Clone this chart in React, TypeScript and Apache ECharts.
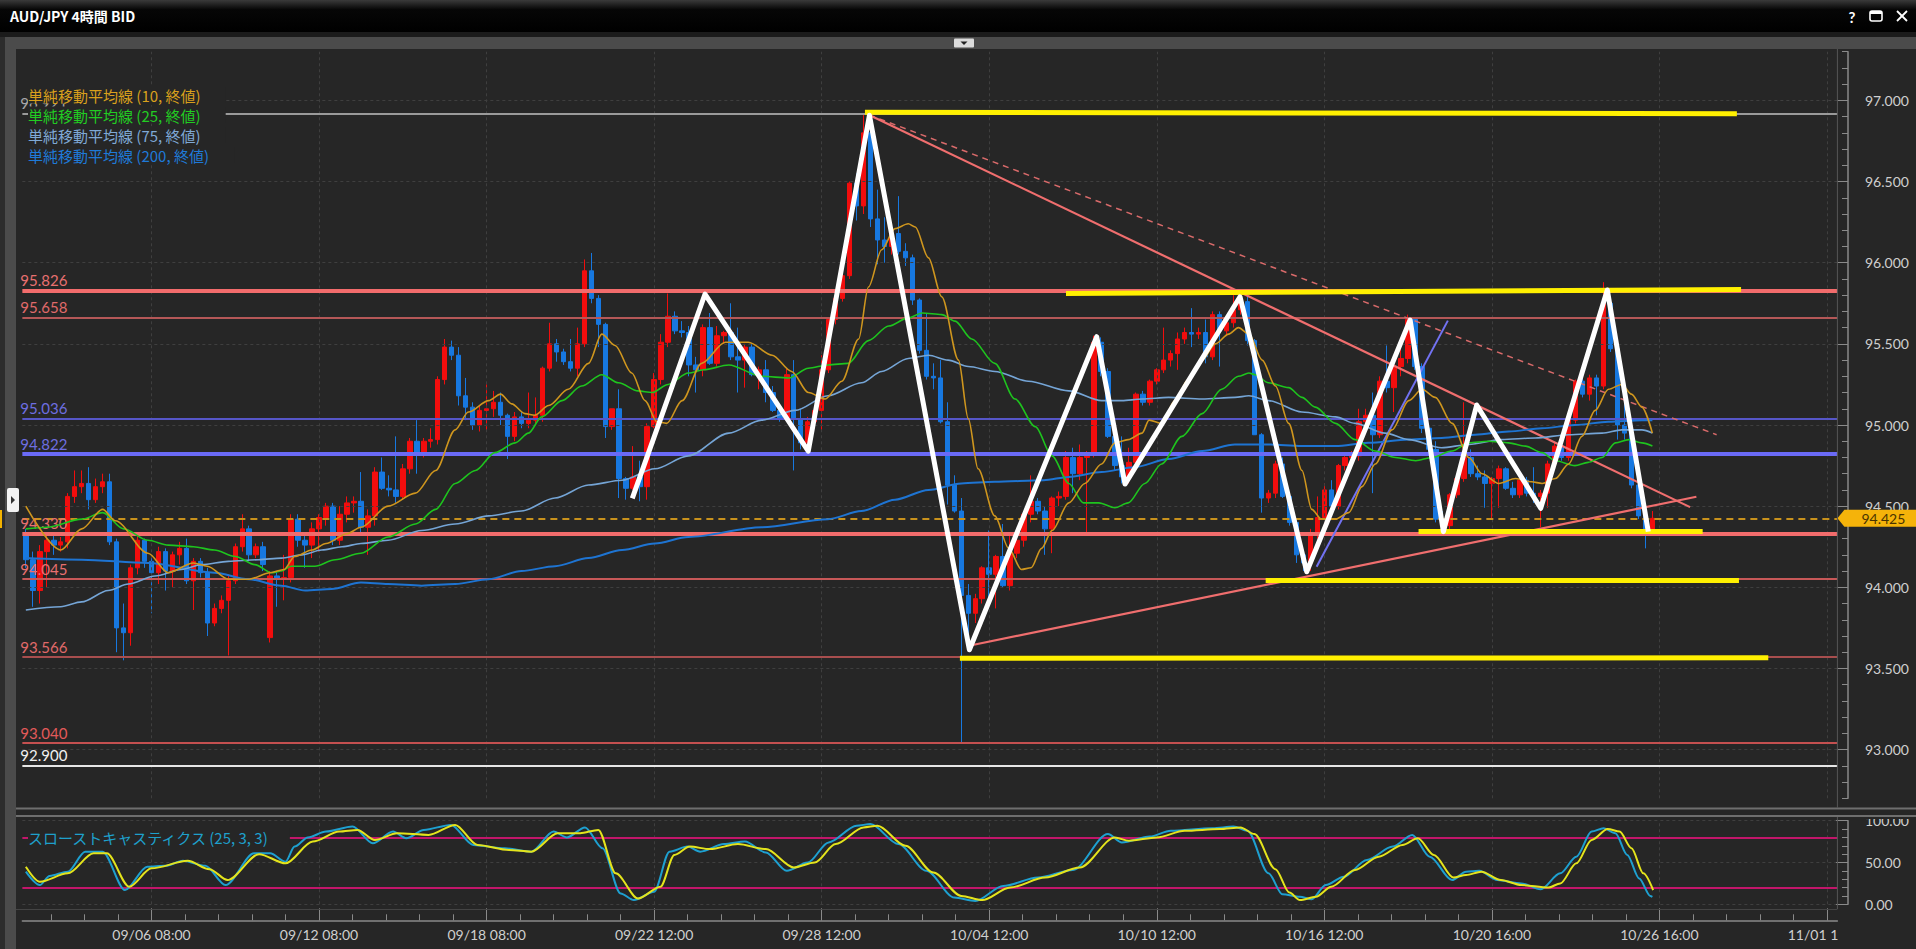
import React, { useEffect, useRef } from "react";
import * as echarts from "echarts";

const W = 1916;
const H = 949;
const BG = "#262626";
const FONT = 'Lato, "Noto Sans", sans-serif';
const JFONT = '"Noto Sans CJK JP", "Noto Sans", sans-serif';

// Candles: [open, high, low, close], one per 4h bar
const candleOHLC: number[][] = [
  [94.33, 94.36, 94.12, 94.17], [94.17, 94.22, 93.88, 93.98], [93.98, 94.26, 93.9, 94.22], [94.22, 94.33, 94.0, 94.29],
  [94.29, 94.34, 94.2, 94.26], [94.26, 94.31, 94.22, 94.28], [94.28, 94.58, 94.24, 94.56], [94.56, 94.72, 94.52, 94.62],
  [94.62, 94.72, 94.58, 94.64], [94.64, 94.74, 94.48, 94.54], [94.54, 94.67, 94.52, 94.62], [94.62, 94.7, 94.58, 94.65],
  [94.65, 94.7, 94.26, 94.28], [94.28, 94.3, 93.6, 93.75], [93.75, 93.9, 93.55, 93.72], [93.72, 94.14, 93.64, 94.12],
  [94.12, 94.32, 94.08, 94.29], [94.29, 94.3, 94.12, 94.16], [94.16, 94.18, 93.84, 94.09], [94.09, 94.25, 94.02, 94.22],
  [94.22, 94.24, 93.98, 94.1], [94.1, 94.22, 94.0, 94.2], [94.2, 94.28, 94.14, 94.24], [94.24, 94.3, 94.02, 94.04],
  [94.04, 94.18, 93.86, 94.16], [94.16, 94.18, 94.06, 94.09], [94.09, 94.12, 93.7, 93.78], [93.78, 93.9, 93.76, 93.87],
  [93.87, 93.95, 93.84, 93.92], [93.92, 94.08, 93.58, 94.04], [94.04, 94.27, 94.02, 94.25], [94.25, 94.45, 94.22, 94.36],
  [94.36, 94.38, 94.16, 94.2], [94.2, 94.27, 94.18, 94.25], [94.25, 94.28, 94.1, 94.14], [93.69, 94.1, 93.66, 94.07],
  [94.07, 94.1, 93.88, 94.05], [94.05, 94.2, 93.92, 94.06], [94.06, 94.45, 94.03, 94.42], [94.42, 94.45, 94.25, 94.29],
  [94.29, 94.32, 94.12, 94.26], [94.26, 94.4, 94.18, 94.36], [94.36, 94.45, 94.22, 94.43], [94.43, 94.52, 94.38, 94.5],
  [94.5, 94.52, 94.26, 94.29], [94.29, 94.5, 94.26, 94.45], [94.45, 94.56, 94.4, 94.52], [94.52, 94.56, 94.46, 94.53],
  [94.53, 94.71, 94.34, 94.37], [94.37, 94.48, 94.2, 94.44], [94.44, 94.74, 94.38, 94.71], [94.71, 94.8, 94.6, 94.61],
  [94.61, 94.69, 94.56, 94.6], [94.6, 94.93, 94.52, 94.56], [94.56, 94.76, 94.54, 94.73], [94.73, 94.92, 94.7, 94.9],
  [94.9, 95.03, 94.7, 94.83], [94.83, 94.92, 94.8, 94.9], [94.9, 94.98, 94.86, 94.91], [94.91, 95.3, 94.88, 95.28],
  [95.28, 95.53, 95.25, 95.48], [95.48, 95.52, 95.4, 95.43], [95.43, 95.48, 95.12, 95.18], [95.18, 95.29, 95.03, 95.11],
  [95.11, 95.14, 94.97, 95.0], [95.0, 95.12, 94.96, 95.09], [95.09, 95.25, 94.96, 95.1], [95.1, 95.21, 95.05, 95.14],
  [95.14, 95.2, 95.0, 95.06], [95.06, 95.07, 94.79, 94.93], [94.93, 95.08, 94.9, 95.05], [95.05, 95.08, 94.98, 95.01],
  [95.01, 95.2, 94.98, 95.03], [95.03, 95.17, 95.0, 95.06], [95.06, 95.36, 95.02, 95.35], [95.35, 95.63, 95.33, 95.5],
  [95.5, 95.53, 95.39, 95.45], [95.45, 95.47, 95.37, 95.39], [95.39, 95.53, 95.33, 95.35], [95.35, 95.6, 95.3, 95.5],
  [95.5, 96.02, 95.48, 95.95], [95.95, 96.06, 95.75, 95.78], [95.78, 95.8, 95.48, 95.62], [95.62, 95.63, 94.92, 94.99],
  [94.99, 95.1, 94.97, 95.1], [95.1, 95.22, 94.55, 94.67], [94.67, 94.68, 94.54, 94.61], [94.61, 94.87, 94.6, 94.68],
  [94.68, 94.78, 94.53, 94.62], [94.62, 95.01, 94.54, 94.99], [94.99, 95.32, 94.98, 95.28], [95.28, 95.56, 95.25, 95.51],
  [95.51, 95.81, 95.48, 95.67], [95.67, 95.7, 95.56, 95.58], [95.58, 95.64, 95.54, 95.57], [95.57, 95.61, 95.3, 95.37],
  [95.37, 95.42, 95.2, 95.34], [95.34, 95.62, 95.3, 95.6], [95.6, 95.69, 95.37, 95.38], [95.38, 95.61, 95.36, 95.55],
  [95.55, 95.58, 95.5, 95.57], [95.57, 95.75, 95.4, 95.42], [95.42, 95.6, 95.2, 95.4], [95.4, 95.5, 95.23, 95.48],
  [95.48, 95.5, 95.3, 95.31], [95.31, 95.36, 95.22, 95.34], [95.34, 95.4, 95.14, 95.2], [95.2, 95.24, 95.08, 95.09],
  [95.09, 95.11, 95.02, 95.04], [95.04, 95.35, 95.02, 95.31], [95.31, 95.4, 94.72, 95.04], [95.04, 95.1, 94.85, 94.89],
  [94.89, 95.05, 94.84, 95.02], [95.02, 95.12, 94.98, 95.09], [95.09, 95.43, 94.96, 95.34], [95.34, 95.66, 95.32, 95.65],
  [95.65, 95.8, 95.62, 95.78], [95.78, 95.94, 95.76, 95.92], [95.92, 96.5, 95.9, 96.49], [96.49, 96.55, 96.26, 96.35],
  [96.35, 96.921, 96.3, 96.8], [96.8, 96.91, 96.22, 96.27], [96.27, 96.45, 95.99, 96.14], [96.14, 96.28, 96.0, 96.1],
  [96.1, 96.2, 96.05, 96.18], [96.18, 96.41, 96.05, 96.07], [96.07, 96.12, 95.98, 96.03], [96.03, 96.05, 95.74, 95.77],
  [95.77, 95.78, 95.44, 95.46], [95.46, 95.69, 95.28, 95.3], [95.3, 95.38, 95.22, 95.29], [95.29, 95.4, 95.01, 95.02],
  [95.02, 95.14, 94.51, 94.63], [94.63, 94.69, 94.46, 94.47], [94.47, 94.55, 93.04, 93.95], [93.95, 94.02, 93.62, 93.84],
  [93.84, 93.96, 93.78, 93.93], [93.93, 94.13, 93.9, 94.12], [94.12, 94.35, 93.87, 94.08], [94.08, 94.2, 93.87, 94.19],
  [94.19, 94.39, 94.0, 94.01], [94.01, 94.32, 93.98, 94.21], [94.21, 94.32, 94.18, 94.29], [94.29, 94.47, 94.25, 94.45],
  [94.45, 94.69, 94.4, 94.53], [94.53, 94.55, 94.45, 94.47], [94.47, 94.5, 94.2, 94.36], [94.36, 94.56, 94.21, 94.55],
  [94.55, 94.59, 94.5, 94.56], [94.56, 94.84, 94.54, 94.8], [94.8, 94.86, 94.58, 94.7], [94.7, 94.88, 94.66, 94.8],
  [94.8, 94.84, 94.33, 94.83], [94.83, 95.55, 94.8, 95.51], [95.51, 95.54, 95.3, 95.33], [95.33, 95.35, 94.92, 94.93],
  [94.93, 95.0, 94.72, 94.75], [94.75, 94.93, 94.64, 94.68], [94.68, 94.86, 94.64, 94.77], [94.77, 95.2, 94.72, 95.19],
  [95.19, 95.21, 95.12, 95.14], [95.14, 95.28, 95.12, 95.27], [95.27, 95.35, 95.25, 95.34], [95.34, 95.6, 95.32, 95.4],
  [95.4, 95.46, 95.36, 95.44], [95.44, 95.57, 95.34, 95.53], [95.53, 95.6, 95.5, 95.57], [95.57, 95.72, 95.48, 95.56],
  [95.56, 95.6, 95.53, 95.57], [95.57, 95.65, 95.38, 95.42], [95.42, 95.7, 95.4, 95.68], [95.68, 95.7, 95.36, 95.58],
  [95.58, 95.65, 95.55, 95.63], [95.63, 95.8, 95.6, 95.71], [95.71, 95.8, 95.68, 95.76], [95.76, 95.8, 95.49, 95.52],
  [95.52, 95.53, 94.94, 94.94], [94.94, 94.95, 94.46, 94.55], [94.55, 94.6, 94.52, 94.58], [94.58, 94.78, 94.55, 94.76],
  [94.76, 94.8, 94.55, 94.56], [94.56, 94.58, 94.38, 94.4], [94.4, 94.42, 94.15, 94.2], [94.2, 94.22, 94.1, 94.15],
  [94.15, 94.36, 94.1, 94.32], [94.32, 94.56, 94.3, 94.43], [94.43, 94.64, 94.4, 94.6], [94.6, 94.66, 94.48, 94.5],
  [94.5, 94.76, 94.48, 94.75], [94.75, 94.82, 94.72, 94.8], [94.8, 94.84, 94.77, 94.81], [94.81, 95.1, 94.78, 95.02],
  [95.02, 95.1, 95.0, 95.06], [95.06, 95.2, 94.58, 94.94], [94.94, 95.3, 94.92, 95.27], [95.27, 95.49, 95.2, 95.23],
  [95.23, 95.4, 95.08, 95.36], [95.36, 95.51, 95.3, 95.41], [95.41, 95.68, 95.38, 95.65], [95.65, 95.66, 95.34, 95.36],
  [95.36, 95.38, 94.95, 94.98], [94.98, 94.99, 94.82, 94.85], [94.85, 94.9, 94.4, 94.42], [94.42, 94.47, 94.34, 94.38],
  [94.38, 94.58, 94.33, 94.57], [94.57, 94.67, 94.55, 94.67], [94.67, 95.14, 94.65, 94.8], [94.8, 94.85, 94.68, 94.7],
  [94.7, 94.75, 94.66, 94.68], [94.68, 94.72, 94.49, 94.64], [94.64, 94.68, 94.42, 94.67], [94.67, 94.75, 94.49, 94.73],
  [94.73, 94.74, 94.6, 94.61], [94.61, 94.65, 94.55, 94.57], [94.57, 94.7, 94.55, 94.66], [94.66, 94.68, 94.56, 94.58],
  [94.58, 94.74, 94.52, 94.56], [94.56, 94.6, 94.37, 94.58], [94.58, 94.78, 94.49, 94.76], [94.76, 94.89, 94.74, 94.87],
  [94.87, 94.89, 94.78, 94.8], [94.8, 95.03, 94.78, 95.03], [95.03, 95.28, 95.01, 95.27], [95.27, 95.3, 95.17, 95.19],
  [95.19, 95.31, 95.15, 95.29], [95.29, 95.31, 95.06, 95.24], [95.24, 95.88, 95.22, 95.75], [95.75, 95.77, 95.45, 95.47],
  [95.47, 95.5, 94.91, 95.0], [95.0, 95.13, 94.91, 94.95], [94.95, 94.97, 94.61, 94.63], [94.63, 94.64, 94.42, 94.44],
  [94.44, 94.49, 94.24, 94.35], [94.35, 94.47, 94.34, 94.425],
];

// Moving averages: [bar index, price]
const sma10: number[][] = [
  [0, 94.5], [5, 94.23], [8, 94.36], [11, 94.48], [12.8, 94.41], [17.5, 94.21], [20.4, 94.09], [24, 94.15], [26, 94.13],
  [29, 94.05], [32, 94.05], [35, 94.09], [37, 94.11], [38.5, 94.19], [41, 94.23], [43, 94.27], [46, 94.33], [48, 94.37],
  [51.9, 94.5], [55.8, 94.58], [58.7, 94.72], [61.5, 94.97], [63.4, 95.08], [66.3, 95.15], [68, 95.19], [69.6, 95.13],
  [71.5, 95.07], [72.9, 95.06], [74.9, 95.12], [77.7, 95.22], [80.6, 95.38], [82.5, 95.56], [84.4, 95.49], [86.8, 95.32],
  [88.7, 95.15], [90.4, 95.02], [91.8, 95.01], [94, 95.15], [96.8, 95.38], [100.2, 95.51], [103.5, 95.51], [106.9, 95.43],
  [109.7, 95.33], [112.1, 95.2], [114.5, 95.16], [116.9, 95.27], [119.3, 95.53], [120.7, 95.85], [122.6, 96.08],
  [124.5, 96.21], [126.4, 96.24], [127.4, 96.22], [129.3, 96.03], [131.2, 95.79], [133.6, 95.4], [135, 95.04],
  [136.4, 94.73], [138.8, 94.44], [140.8, 94.24], [142.6, 94.11], [144, 94.12], [145.5, 94.24], [147, 94.35],
  [149.4, 94.52], [151.7, 94.64], [154.1, 94.76], [156, 94.89], [157.9, 94.91], [159.9, 94.95], [160.9, 95.03],
  [162.7, 95.01], [164.6, 95.15], [166.5, 95.28], [168.5, 95.4], [170.4, 95.5], [172.3, 95.56], [173.7, 95.6],
  [175.2, 95.56], [177.1, 95.4], [179, 95.24], [180.9, 95.01], [182.8, 94.72], [184.2, 94.48], [185.6, 94.42],
  [187.6, 94.42], [189.5, 94.46], [191.4, 94.62], [193.3, 94.76], [195.7, 94.97], [198.1, 95.15], [200, 95.22],
  [201.9, 95.17], [204.3, 95.01], [206.7, 94.8], [208.6, 94.7], [211, 94.64], [213.4, 94.67], [215.7, 94.65],
  [217.2, 94.64], [219.1, 94.67], [221, 94.76], [222.9, 94.93], [224.8, 95.09], [226.7, 95.22], [228.6, 95.25],
  [230, 95.19], [231.5, 95.11], [233, 94.95],
];
const sma25: number[][] = [
  [0, 94.36], [3, 94.37], [8, 94.42], [11, 94.46], [14, 94.36], [17.5, 94.29], [20.4, 94.26], [24, 94.25], [27, 94.23],
  [30, 94.19], [32.8, 94.14], [35.2, 94.09], [36.6, 94.1], [38, 94.13], [41.4, 94.13], [44.3, 94.17], [48, 94.21],
  [51.9, 94.31], [55.8, 94.39], [58.7, 94.48], [61.5, 94.64], [64.4, 94.72], [67.2, 94.83], [70.1, 94.89], [72, 94.95],
  [73.9, 95.05], [76.8, 95.15], [79.6, 95.24], [82.5, 95.31], [84.9, 95.26], [87.7, 95.21], [89.7, 95.2], [92, 95.25],
  [94.9, 95.32], [97.1, 95.34], [100.7, 95.37], [105.4, 95.3], [109.3, 95.29], [112.1, 95.35], [114.9, 95.37],
  [117.8, 95.38], [120.7, 95.52], [123.6, 95.61], [126.4, 95.66], [128.4, 95.69], [131.2, 95.68], [133.1, 95.64],
  [135.5, 95.53], [138.8, 95.38], [141.7, 95.16], [144.6, 94.99], [147, 94.81], [149.4, 94.64], [151.5, 94.52],
  [153.7, 94.52], [156, 94.49], [157.9, 94.52], [160.3, 94.64], [162.7, 94.76], [165.6, 94.93], [168.5, 95.07],
  [171.3, 95.22], [173.7, 95.3], [175.2, 95.32], [176.1, 95.31], [178, 95.26], [180.9, 95.23], [182.8, 95.17],
  [184.7, 95.11], [187.6, 95.01], [190.4, 94.91], [193.3, 94.84], [196.2, 94.8], [199.1, 94.78], [201.4, 94.8],
  [204.3, 94.84], [206.7, 94.89], [209.5, 94.9], [212.4, 94.89], [214.8, 94.87], [217.2, 94.83], [219.1, 94.78],
  [221.9, 94.75], [223.8, 94.77], [225.8, 94.8], [227.7, 94.89], [229.6, 94.91], [231.5, 94.89], [233, 94.87],
];
const sma75: number[][] = [
  [0, 93.86], [5, 93.88], [8, 93.91], [11.8, 93.98], [14.7, 94.02], [18.5, 94.07], [22.3, 94.11], [25.2, 94.14],
  [29, 94.16], [33.3, 94.17], [36.6, 94.18], [39.5, 94.2], [42.4, 94.23], [45.3, 94.25], [48, 94.27], [51.9, 94.29],
  [56.7, 94.35], [61.5, 94.39], [66.3, 94.44], [71, 94.47], [75.8, 94.55], [80.6, 94.63], [85.4, 94.66], [90.1, 94.73],
  [94.9, 94.81], [100.7, 94.95], [105.4, 95.03], [110.2, 95.09], [114.9, 95.18], [119.7, 95.26], [122.6, 95.33],
  [126.4, 95.41], [129.3, 95.43], [132.1, 95.4], [135, 95.36], [138.8, 95.33], [143.6, 95.27], [149.4, 95.21],
  [154.1, 95.15], [157, 95.15], [159.9, 95.16], [163.7, 95.17], [168.5, 95.16], [173.2, 95.17], [175.2, 95.18],
  [178, 95.15], [182.8, 95.08], [187.6, 95.05], [190.4, 95.01], [194.7, 94.95], [198.1, 94.91], [202.8, 94.86],
  [206.7, 94.88], [211.4, 94.91], [216.2, 94.92], [221, 94.94], [225.8, 94.95], [228.6, 94.97], [231.5, 94.97],
  [233, 94.95],
];
const sma200: number[][] = [
  [0, 94.18], [8, 94.17], [17.5, 94.15], [27, 94.09], [31.9, 94.05], [36.6, 94.01], [40, 93.98], [43.8, 93.99],
  [48, 94.03], [51.9, 94.02], [56.7, 94.01], [61.5, 94.02], [66.3, 94.05], [71, 94.1], [75.8, 94.13], [80.6, 94.18],
  [85.4, 94.23], [90.1, 94.27], [94.9, 94.31], [105.4, 94.37], [114.9, 94.42], [119.7, 94.47], [124.5, 94.54],
  [129.3, 94.6], [134, 94.64], [138.8, 94.65], [145.8, 94.66], [149.4, 94.68], [154.1, 94.71], [158.8, 94.74],
  [163.7, 94.79], [168.5, 94.84], [173.2, 94.88], [178, 94.88], [182.8, 94.87], [187.6, 94.87], [192.3, 94.89],
  [198.1, 94.91], [202.8, 94.92], [207.6, 94.94], [212.4, 94.96], [217.2, 94.98], [221.9, 95.0], [226.7, 95.02],
  [231.5, 95.03], [233, 95.03],
];

// Slow stochastics (%K cyan, %D yellow): [bar index, value]
const stochK: number[][] = [
  [0, 39], [2, 23], [3.4, 34], [6, 39], [8.5, 63], [11, 63], [14.2, 17], [17.4, 45], [20, 46], [22.5, 52], [25.7, 46],
  [28.6, 23], [32.7, 61], [35, 61], [37.2, 51], [38.5, 69], [40.4, 80], [43, 87], [46.8, 93], [49.7, 73], [52.6, 87],
  [54.5, 79], [57, 89], [60.9, 95], [64.1, 71], [68.6, 67], [72.4, 63], [75.6, 87], [77.5, 80], [80.1, 92], [82.6, 67],
  [85.2, 13], [87.1, 5], [90, 15], [92.2, 63], [94.8, 69], [96.6, 63], [100, 72], [103, 75], [106, 62], [109, 40],
  [112, 50], [115, 74], [119, 94], [121, 96], [125, 72], [129, 40], [133, 8], [136, 4], [140, 22], [145, 32], [150, 41],
  [155, 84], [157, 74], [161, 81], [164, 88], [170, 91], [173, 93], [175, 88], [178, 37], [180, 12], [182.5, 9],
  [184.2, 6], [186.2, 23], [188.8, 33], [192.1, 53], [195.8, 69], [198.6, 83], [201.1, 57], [204.3, 29], [206.3, 39],
  [208.2, 40], [210.8, 29], [214.2, 25], [217, 18], [219.8, 37], [222.1, 57], [224.3, 87], [226, 91], [227.7, 85],
  [229.4, 59], [231.1, 31], [232.7, 10], [233, 9],
];
const stochD: number[][] = [
  [0, 45], [2, 27], [6, 37], [9.7, 61], [11.6, 61], [14.8, 21], [18, 43], [23.2, 52], [26.3, 42], [28.9, 29], [33.4, 60],
  [37.2, 49], [41.1, 75], [44.9, 87], [47.5, 89], [50, 77], [53.2, 85], [57.7, 83], [61.5, 95], [64.7, 71], [69.2, 65],
  [72.4, 63], [76.2, 85], [79.4, 85], [82, 89], [84.5, 37], [87.7, 7], [90.9, 21], [92.9, 59], [95.1, 69], [98, 66],
  [102, 72], [106, 66], [110, 44], [113, 50], [116, 72], [120, 92], [122, 94], [126, 70], [130, 38], [134, 10], [137, 5],
  [141, 20], [146, 32], [151, 44], [156, 80], [158, 76], [162, 80], [166, 88], [171, 90], [174, 92], [176, 84], [179, 42],
  [181, 14], [182.5, 5], [184.8, 9], [187, 21], [190.4, 41], [193.8, 57], [197.2, 71], [199.4, 79], [201.7, 59],
  [204.5, 32], [206.3, 35], [208.5, 39], [211.3, 29], [214.2, 23], [218.1, 20], [219.8, 25], [222.1, 49], [224.3, 77],
  [226.6, 90], [228.3, 87], [230, 67], [231.7, 37], [233.1, 17],
];

// Axis labels
const NUM_SLOTS = 260;
const xLabelIdx = [18, 42, 66, 90, 114, 138, 162, 186, 210, 234, 258];
const xLabelText = [
  "09/06 08:00", "09/12 08:00", "09/18 08:00", "09/22 12:00", "09/28 12:00", "10/04 12:00",
  "10/10 12:00", "10/16 12:00", "10/20 16:00", "10/26 16:00", "11/01 16:00",
];
const priceGrid = [93, 93.5, 94, 94.5, 95, 95.5, 96, 96.5, 97];

// Horizontal level lines
const levelValues = [96.921, 95.826, 95.658, 95.036, 94.822, 94.33, 94.045, 93.566, 93.04, 92.9];
const levelColors = ["#9a9a9a", "#f26c6c", "#b45757", "#5656c8", "#6a6af6", "#f26c6c", "#c85858", "#a84e4e", "#c45050", "#e6e6e6"];
const levelWidths = [2, 4, 2, 2, 4, 4, 2, 2, 2, 2];
const levelLabelColors = ["#a8a8a8", "#e87070", "#e06a6a", "#6e6ee0", "#6e6ee0", "#e87070", "#e87070", "#e06a6a", "#e25a5a", "#f0f0f0"];
const lastPrice = 94.425;

// Hand drawings: [bar index, price]
const zigzag: number[][] = [
  [86.87, 94.548], [97.29, 95.807], [112.08, 94.839], [120.84, 96.908], [135.16, 93.615], [153.4, 95.544],
  [157.45, 94.636], [173.93, 95.79], [183.48, 94.096], [198.29, 95.647], [203.06, 94.343], [207.83, 95.123],
  [217.0, 94.487], [226.54, 95.832], [232.41, 94.343],
];
const yellowLines: number[][][] = [
  [[120.2, 96.927], [245.1, 96.918]],
  [[149.0, 95.81], [245.7, 95.835]],
  [[199.5, 94.343], [240.2, 94.343]],
  [[177.6, 94.045], [245.4, 94.045]],
  [[133.8, 93.563], [249.6, 93.566]],
];
const redLines: number[][][] = [
  [[120.8, 96.91], [238.4, 94.494]],
  [[135.1, 93.64], [239.3, 94.558]],
];
const redDashedLines: number[][][] = [[[120.8, 96.91], [242.2, 94.94]]];
const blueLines: number[][][] = [[[184.9, 94.127], [203.7, 95.643]]];

// Layout
const PLOT_L = 22.35;
const PLOT_R = 1837.4;
const PX_PER_PRICE = 162.3;
const Y97 = 100.4;
const yOf = (p: number) => Y97 + (97 - p) * PX_PER_PRICE;
const xOf = (k: number) => PLOT_L + (k + 0.5) * ((PLOT_R - PLOT_L) / NUM_SLOTS);

function segLines(list: number[][][], style: any) {
  return list.map((s) => [
    { coord: s[0], lineStyle: style },
    { coord: s[1] },
  ]);
}

function buildOption(): any {
  const cats = Array.from({ length: NUM_SLOTS }, (_, i) => String(i));
  const mainTop = yOf(97.3);
  const mainBottom = yOf(92.7);
  const majTop = yOf(97.5);
  const majBottom = yOf(93);
  const stTop = 820.7;
  const stBottom = 904.3;
  const minorL = xOf(3.6);
  const minorR = xOf(258);
  const axisColor = "#8a8a8a";
  const labelColor = "#cfcfcf";
  const isLab = (i: number) => xLabelIdx.indexOf(i) >= 0;

  const lineSeries = (data: number[][], color: string, width: number, z: number) => ({
    type: "line",
    xAxisIndex: 1,
    yAxisIndex: 0,
    data,
    smooth: 0.3,
    smoothMonotone: "x",
    symbol: "none",
    showSymbol: false,
    silent: true,
    z,
    lineStyle: { color, width },
  });

  return {
    animation: false,
    backgroundColor: BG,
    grid: [
      { left: PLOT_L, width: PLOT_R - PLOT_L, top: mainTop, height: mainBottom - mainTop },
      { left: PLOT_L, width: PLOT_R - PLOT_L, top: stTop, height: stBottom - stTop },
      { left: minorL, width: minorR - minorL, top: stTop, height: stBottom - stTop },
      { left: PLOT_L, width: PLOT_R - PLOT_L, top: majTop, height: majBottom - majTop },
    ],
    xAxis: [
      { type: "category", gridIndex: 0, data: cats, show: false, boundaryGap: true },
      { type: "value", gridIndex: 0, min: -0.5, max: NUM_SLOTS - 0.5, show: false },
      {
        type: "category",
        gridIndex: 1,
        data: cats,
        boundaryGap: true,
        position: "bottom",
        offset: 16,
        axisLine: { show: true, onZero: false, lineStyle: { color: axisColor, width: 1.5 } },
        axisTick: {
          show: true,
          inside: true,
          length: 12,
          alignWithLabel: true,
          interval: (i: number) => isLab(i),
          lineStyle: { color: axisColor },
        },
        axisLabel: {
          show: true,
          interval: (i: number) => isLab(i),
          formatter: (_v: string, i: number) => {
            const j = xLabelIdx.indexOf(i);
            return j >= 0 ? xLabelText[j] : "";
          },
          color: labelColor,
          fontSize: 14,
          fontFamily: FONT,
          margin: 7,
        },
        splitLine: { show: false },
      },
      { type: "value", gridIndex: 1, min: -0.5, max: NUM_SLOTS - 0.5, show: false },
      {
        type: "value",
        gridIndex: 2,
        min: -3,
        max: 50,
        interval: 1,
        position: "bottom",
        offset: 16,
        axisLine: { show: false, onZero: false },
        axisTick: { show: true, inside: true, length: 6, lineStyle: { color: axisColor } },
        axisLabel: { show: false },
        splitLine: { show: false },
      },
      { type: "value", gridIndex: 3, min: 0, max: 1, show: false },
    ],
    yAxis: [
      {
        type: "value",
        gridIndex: 0,
        min: 92.7,
        max: 97.3,
        interval: 0.1,
        position: "right",
        offset: 10.6,
        axisLine: { show: true, onZero: false, lineStyle: { color: axisColor, width: 1.5 } },
        axisTick: { show: true, inside: true, length: 6, lineStyle: { color: axisColor } },
        axisLabel: { show: false },
        splitLine: { show: false },
      },
      {
        type: "value",
        gridIndex: 3,
        min: 93,
        max: 97.5,
        interval: 0.5,
        position: "right",
        offset: 10.6,
        axisLine: { show: false, onZero: false },
        axisTick: { show: true, inside: true, length: 12, lineStyle: { color: axisColor } },
        axisLabel: {
          show: true,
          showMaxLabel: false,
          formatter: (v: number) => v.toFixed(3),
          color: labelColor,
          fontSize: 14,
          fontFamily: FONT,
          margin: 17,
        },
        splitLine: { show: false },
      },
      {
        type: "value",
        gridIndex: 1,
        min: 0,
        max: 100,
        interval: 50,
        position: "right",
        offset: 10.6,
        axisLine: { show: true, onZero: false, lineStyle: { color: axisColor, width: 1.5 } },
        axisTick: { show: true, inside: true, length: 12, lineStyle: { color: axisColor } },
        minorTick: { show: true, splitNumber: 5, length: 6, lineStyle: { color: axisColor } },
        axisLabel: {
          show: true,
          formatter: (v: number) => v.toFixed(2),
          color: labelColor,
          fontSize: 14,
          fontFamily: FONT,
          margin: 17,
        },
        splitLine: { show: true, lineStyle: { color: "#3f3f3f", type: [3, 3], width: 1 } },
      },
      { type: "value", gridIndex: 2, min: 0, max: 1, show: false },
    ],
    series: [
      // main pane grid lines
      {
        type: "line",
        xAxisIndex: 1,
        yAxisIndex: 0,
        data: [],
        silent: true,
        z: 1,
        markLine: {
          silent: true,
          symbol: ["none", "none"],
          label: { show: false },
          lineStyle: { color: "#3f3f3f", type: [3, 3], width: 1 },
          data: [
            ...priceGrid.map((v) => ({ yAxis: v })),
            ...xLabelIdx.map((k) => ({ xAxis: k })),
          ],
        },
      },
      // candles
      {
        type: "candlestick",
        xAxisIndex: 0,
        yAxisIndex: 0,
        barWidth: 5,
        z: 3,
        silent: true,
        data: candleOHLC.map(([o, h, l, c]) => [o, c, l, h]),
        itemStyle: {
          color: "#f20d0d",
          color0: "#1778e0",
          borderColor: "#f20d0d",
          borderColor0: "#1778e0",
          borderWidth: 1,
        },
      },
      // level lines + current price
      {
        type: "line",
        xAxisIndex: 1,
        yAxisIndex: 0,
        data: [],
        silent: true,
        clip: false,
        z: 4,
        markLine: {
          silent: true,
          symbol: ["none", "none"],
          data: [
            ...levelValues.map((v, i) => ({
              yAxis: v,
              lineStyle: { color: levelColors[i], width: levelWidths[i], type: "solid" },
              label: {
                show: true,
                position: "insideStartTop",
                formatter: v.toFixed(3),
                color: levelLabelColors[i],
                fontSize: 15,
                fontFamily: FONT,
                distance: [-2, 3],
              },
            })),
            {
              yAxis: lastPrice,
              lineStyle: { color: "#c9921c", width: 2, type: [7, 5] },
              label: { show: false },
            },
          ],
        },
        markPoint: {
          silent: true,
          data: [
            {
              coord: [NUM_SLOTS - 0.5, lastPrice],
              symbol: "path://M0,8L7,0L80,0L80,16L7,16Z",
              symbolSize: [80, 17],
              symbolOffset: [40, 0],
              itemStyle: { color: "#f5b30a" },
              label: {
                show: true,
                position: "inside",
                formatter: lastPrice.toFixed(3),
                color: "#4a3300",
                fontSize: 14,
                fontFamily: FONT,
                offset: [6, 0],
              },
            },
          ],
        },
      },
      // moving averages
      lineSeries(sma200, "#1e74d2", 2, 5),
      lineSeries(sma75, "#75a5d6", 1.6, 5),
      lineSeries(sma25, "#1ec41e", 1.6, 6),
      lineSeries(sma10, "#cf961e", 1.6, 6),
      // drawn trend lines
      {
        type: "line",
        xAxisIndex: 1,
        yAxisIndex: 0,
        data: [],
        silent: true,
        z: 7,
        markLine: {
          silent: true,
          symbol: ["none", "none"],
          label: { show: false },
          data: [
            ...segLines(redDashedLines, { color: "#d86a6a", width: 1.5, type: [6, 5] }),
            ...segLines(redLines, { color: "#f06e6e", width: 2.2, type: "solid" }),
            ...segLines(blueLines, { color: "#7272f2", width: 2, type: "solid" }),
            ...segLines(yellowLines, { color: "#fff000", width: 5, type: "solid" }),
          ],
        },
      },
      {
        type: "line",
        xAxisIndex: 1,
        yAxisIndex: 0,
        data: zigzag,
        symbol: "none",
        showSymbol: false,
        silent: true,
        z: 8,
        lineStyle: { color: "#ffffff", width: 5, join: "round" },
      },
      // stochastic pane
      {
        type: "line",
        xAxisIndex: 3,
        yAxisIndex: 2,
        data: [],
        silent: true,
        z: 1,
        markLine: {
          silent: true,
          symbol: ["none", "none"],
          label: { show: false },
          lineStyle: { color: "#3f3f3f", type: [3, 3], width: 1 },
          data: xLabelIdx.map((k) => ({ xAxis: k })),
        },
      },
      {
        type: "line",
        xAxisIndex: 3,
        yAxisIndex: 2,
        data: [],
        silent: true,
        z: 3,
        markLine: {
          silent: true,
          symbol: ["none", "none"],
          label: { show: false },
          lineStyle: { color: "#c2166a", type: "solid", width: 2 },
          data: [{ yAxis: 80 }, { yAxis: 20 }],
        },
      },
      {
        type: "line",
        xAxisIndex: 3,
        yAxisIndex: 2,
        data: stochK,
        smooth: 0.3,
        smoothMonotone: "x",
        symbol: "none",
        showSymbol: false,
        silent: true,
        z: 5,
        lineStyle: { color: "#1ea0d0", width: 2 },
      },
      {
        type: "line",
        xAxisIndex: 3,
        yAxisIndex: 2,
        data: stochD,
        smooth: 0.3,
        smoothMonotone: "x",
        symbol: "none",
        showSymbol: false,
        silent: true,
        z: 6,
        lineStyle: { color: "#e4e41c", width: 2 },
      },
    ],
    graphic: [
      // title bar
      {
        type: "rect",
        z: 100,
        silent: true,
        shape: { x: 0, y: 0, width: W, height: 32 },
        style: {
          fill: new echarts.graphic.LinearGradient(0, 0, 0, 1, [
            { offset: 0, color: "#3a3a3a" },
            { offset: 0.3, color: "#060606" },
            { offset: 1, color: "#000000" },
          ]),
        },
      },
      {
        type: "text",
        z: 101,
        silent: true,
        style: { text: "AUD/JPY 4時間 BID", x: 10, y: 16, fill: "#ffffff", font: `bold 14px ${JFONT}`, verticalAlign: "middle" },
      },
      {
        type: "text",
        z: 101,
        silent: true,
        style: { text: "?", x: 1852, y: 17, fill: "#ffffff", font: "bold 15px Lato, sans-serif", align: "center", verticalAlign: "middle" },
      },
      { type: "rect", z: 101, silent: true, shape: { x: 1870, y: 11, width: 12, height: 10, r: 2 }, style: { fill: "none", stroke: "#ffffff", lineWidth: 1.6 } },
      { type: "rect", z: 101, silent: true, shape: { x: 1870, y: 11, width: 12, height: 3 }, style: { fill: "#ffffff" } },
      { type: "line", z: 101, silent: true, shape: { x1: 1897, y1: 11, x2: 1907, y2: 21 }, style: { stroke: "#ffffff", lineWidth: 1.8 } },
      { type: "line", z: 101, silent: true, shape: { x1: 1907, y1: 11, x2: 1897, y2: 21 }, style: { stroke: "#ffffff", lineWidth: 1.8 } },
      // strip under the title
      { type: "rect", z: 100, silent: true, shape: { x: 0, y: 32, width: W, height: 5 }, style: { fill: "#1b1b1b" } },
      { type: "rect", z: 100, silent: true, shape: { x: 5, y: 37, width: W - 5, height: 12 }, style: { fill: "#4b4b4b" } },
      { type: "rect", z: 101, silent: true, shape: { x: 954, y: 38.5, width: 20, height: 9, r: 1 }, style: { fill: "#dcdcdc" } },
      { type: "polygon", z: 102, silent: true, shape: { points: [[960.5, 41.5], [967.5, 41.5], [964, 45]] }, style: { fill: "#222222" } },
      // left strip
      { type: "rect", z: 100, silent: true, shape: { x: 0, y: 37, width: 5, height: H - 37 }, style: { fill: "#2c2c2c" } },
      { type: "rect", z: 100, silent: true, shape: { x: 5, y: 49, width: 11, height: H - 49 }, style: { fill: "#4b4b4b" } },
      { type: "rect", z: 101, silent: true, shape: { x: 7, y: 488, width: 12, height: 24, r: 2 }, style: { fill: "#f2f2f2" } },
      { type: "polygon", z: 102, silent: true, shape: { points: [[11, 496], [15, 500], [11, 504]] }, style: { fill: "#333333" } },
      { type: "rect", z: 101, silent: true, shape: { x: 0, y: 510, width: 2, height: 18 }, style: { fill: "#f2b200" } },
      // pane separator
      { type: "rect", z: 90, silent: true, shape: { x: 16, y: 805, width: W - 16, height: 14 }, style: { fill: BG } },
      { type: "line", z: 91, silent: true, shape: { x1: 16, y1: 808.5, x2: W, y2: 808.5 }, style: { stroke: "#6e6e6e", lineWidth: 2 } },
      { type: "line", z: 91, silent: true, shape: { x1: 16, y1: 816, x2: W, y2: 816 }, style: { stroke: "#6e6e6e", lineWidth: 2 } },
      // bottom strip line and right plot border
      { type: "line", z: 91, silent: true, shape: { x1: 16, y1: 909.5, x2: PLOT_R, y2: 909.5 }, style: { stroke: "#444444", lineWidth: 1 } },
      { type: "line", z: 91, silent: true, shape: { x1: PLOT_R, y1: 49, x2: PLOT_R, y2: 808 }, style: { stroke: "#555555", lineWidth: 1 } },
      { type: "line", z: 91, silent: true, shape: { x1: PLOT_R, y1: 817, x2: PLOT_R, y2: 909 }, style: { stroke: "#555555", lineWidth: 1 } },
      // clip of the last time label
      { type: "rect", z: 100, silent: true, shape: { x: PLOT_R + 0.6, y: 924, width: W - PLOT_R, height: H - 924 }, style: { fill: BG } },
      // legends
      {
        type: "text",
        z: 100,
        silent: true,
        style: { text: "単純移動平均線 (10, 終値)", x: 28, y: 95, fill: "#d9a01c", font: `15px ${JFONT}`, verticalAlign: "middle", backgroundColor: BG, padding: [1, 25, 1, 0] },
      },
      {
        type: "text",
        z: 100,
        silent: true,
        style: { text: "単純移動平均線 (25, 終値)", x: 28, y: 115, fill: "#22cc22", font: `15px ${JFONT}`, verticalAlign: "middle", backgroundColor: BG, padding: [1, 25, 1, 0] },
      },
      {
        type: "text",
        z: 100,
        silent: true,
        style: { text: "単純移動平均線 (75, 終値)", x: 28, y: 135, fill: "#7fa9d6", font: `15px ${JFONT}`, verticalAlign: "middle", backgroundColor: BG, padding: [1, 25, 1, 0] },
      },
      {
        type: "text",
        z: 100,
        silent: true,
        style: { text: "単純移動平均線 (200, 終値)", x: 28, y: 155, fill: "#1f7ad8", font: `15px ${JFONT}`, verticalAlign: "middle", backgroundColor: BG, padding: [1, 25, 1, 0] },
      },
      {
        type: "text",
        z: 100,
        silent: true,
        style: { text: "スローストキャスティクス (25, 3, 3)", x: 28, y: 837, fill: "#1ea0cc", font: `15px ${JFONT}`, verticalAlign: "middle", backgroundColor: BG, padding: [1, 20, 1, 0] },
      },
    ],
  };
}

export default function App() {
  const ref = useRef<HTMLDivElement>(null);
  useEffect(() => {
    if (!ref.current) return;
    const chart = echarts.init(ref.current, null, { renderer: "svg" });
    chart.setOption(buildOption());
    return () => chart.dispose();
  }, []);
  return <div ref={ref} style={{ position: "absolute", left: 0, top: 0, width: W, height: H }} />;
}
